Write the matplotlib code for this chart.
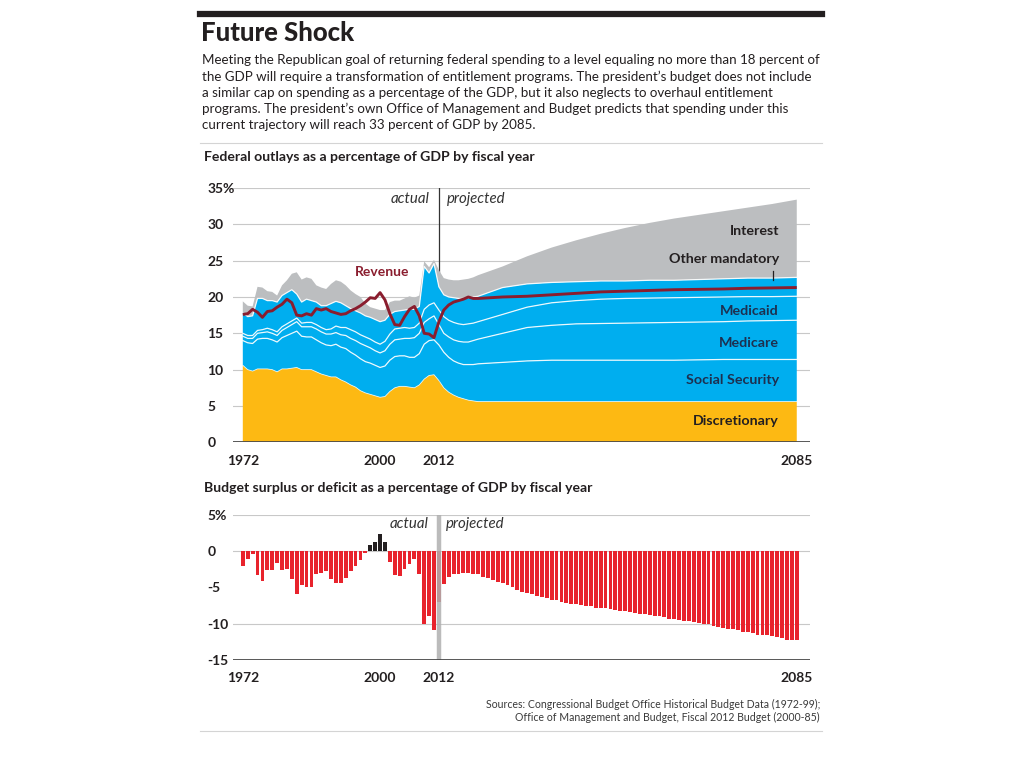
import numpy as np
import matplotlib
matplotlib.use('Agg')
import matplotlib.pyplot as plt
from matplotlib.lines import Line2D

plt.rcParams['font.family'] = ['Lato', 'DejaVu Sans']

# --- outlays by category, % of GDP (annual to 2020, then every 5 years) ---
years = list(range(1972, 2021)) + [2025, 2030, 2035, 2040, 2045, 2050, 2055, 2060, 2065, 2070, 2075, 2080, 2085]

discretionary = [10.6, 10.0, 9.8, 10.1, 10.1, 10.1, 10.0, 9.7, 10.1, 10.1,
                 10.2, 10.3, 10.0, 10.0, 10.0, 9.7, 9.4, 9.2, 9.0, 9.0,
                 8.6, 8.3, 7.9, 7.6, 7.1, 6.8, 6.6, 6.4, 6.2, 6.3,
                 7.0, 7.5, 7.7, 7.7, 7.6, 7.5, 7.9, 8.7, 9.2, 9.3,
                 8.5, 7.5, 6.9, 6.5, 6.2, 6.0, 5.8, 5.7, 5.6,
                 5.6, 5.6, 5.6, 5.6, 5.6, 5.6, 5.6, 5.6, 5.6, 5.6, 5.6, 5.6, 5.6]
social_security = [3.4, 3.7, 3.8, 4.1, 4.2, 4.2, 4.1, 4.1, 4.3, 4.6,
                   4.8, 5.0, 4.6, 4.5, 4.5, 4.4, 4.3, 4.2, 4.3, 4.5,
                   4.5, 4.6, 4.5, 4.4, 4.4, 4.3, 4.3, 4.2, 4.1, 4.2,
                   4.3, 4.3, 4.2, 4.2, 4.1, 4.2, 4.3, 4.8, 4.8, 4.8,
                   4.9, 4.9, 4.8, 4.7, 4.7, 4.7, 4.9, 5.0, 5.2,
                   5.4, 5.6, 5.7, 5.7, 5.7, 5.7, 5.7, 5.7, 5.75, 5.8, 5.8, 5.8, 5.8]
medicare = [0.6, 0.6, 0.7, 0.8, 0.8, 0.9, 0.9, 0.9, 1.0, 1.1,
            1.2, 1.3, 1.3, 1.4, 1.4, 1.5, 1.5, 1.5, 1.6, 1.6,
            1.7, 1.8, 1.9, 2.0, 2.1, 2.2, 2.1, 2.0, 2.0, 2.1,
            2.2, 2.3, 2.3, 2.4, 2.6, 2.7, 2.8, 3.0, 3.0, 3.3,
            2.8, 2.6, 2.8, 2.9, 3.0, 3.1, 3.1, 3.3, 3.4,
            4.0, 4.6, 4.8, 5.0, 5.05, 5.1, 5.15, 5.2, 5.2, 5.2, 5.3, 5.35, 5.4]
medicaid = [0.4, 0.4, 0.4, 0.4, 0.4, 0.5, 0.5, 0.5, 0.5, 0.5,
            0.5, 0.5, 0.5, 0.6, 0.6, 0.6, 0.6, 0.6, 0.7, 0.9,
            1.0, 1.1, 1.2, 1.2, 1.2, 1.2, 1.2, 1.2, 1.2, 1.3,
            1.4, 1.5, 1.5, 1.5, 1.4, 1.4, 1.4, 1.8, 1.9, 1.8,
            2.0, 2.3, 2.3, 2.4, 2.4, 2.4, 2.5, 2.4, 2.4,
            2.6, 2.8, 3.1, 3.2, 3.35, 3.4, 3.4, 3.4, 3.4, 3.4, 3.35, 3.3, 3.3]
other_mandatory = [2.8, 2.6, 2.7, 4.4, 4.3, 3.8, 4.0, 4.1, 4.3, 4.3,
                   4.3, 3.3, 2.9, 3.2, 3.0, 3.1, 3.0, 3.3, 3.5, 3.4,
                   3.4, 3.0, 2.9, 2.9, 3.0, 2.9, 3.0, 3.1, 3.1, 2.9,
                   2.7, 2.4, 2.4, 2.4, 2.6, 2.5, 2.3, 5.9, 4.4, 5.4,
                   3.2, 3.0, 3.2, 3.4, 3.5, 3.6, 3.6, 3.6, 3.5,
                   3.7, 3.2, 2.8, 2.6, 2.5, 2.4, 2.45, 2.4, 2.45, 2.5, 2.55, 2.55, 2.6]
interest = [1.6, 1.5, 1.3, 1.6, 1.5, 1.3, 1.2, 0.9, 1.4, 1.7,
            2.2, 3.0, 3.1, 3.0, 3.0, 2.3, 2.5, 2.3, 2.7, 2.9,
            2.9, 2.8, 2.5, 2.3, 2.2, 1.7, 1.4, 1.5, 1.6, 1.4,
            1.7, 1.5, 1.4, 1.6, 1.8, 1.6, 1.5, 0.7, 0.8, 0.5,
            2.3, 2.3, 2.4, 2.4, 2.5, 2.6, 2.6, 2.7, 2.9,
            2.9, 3.8, 4.8, 5.7, 6.5, 7.3, 7.9, 8.5, 8.9, 9.3, 9.7, 10.2, 10.7]
revenue = [17.6, 17.7, 18.3, 17.9, 17.2, 18.0, 18.1, 18.6, 19.0, 19.7,
           19.2, 17.5, 17.4, 17.7, 17.5, 18.4, 18.2, 18.4, 18.0, 17.8,
           17.6, 17.7, 18.1, 18.4, 18.8, 19.3, 19.9, 19.8, 20.6, 19.6,
           17.7, 16.2, 16.1, 17.3, 18.3, 18.7, 17.4, 15.0, 14.9, 14.4,
           16.6, 18.2, 18.9, 19.3, 19.5, 19.7, 20.0, 19.8, 19.8,
           20.0, 20.1, 20.3, 20.5, 20.7, 20.8, 20.9, 21.0, 21.05, 21.1, 21.2, 21.25, 21.3]

# --- surplus / deficit, % of GDP, every year ---
bar_years = list(range(1972, 2086))
balance = [-2.0, -1.1, -0.4, -3.3, -4.1, -2.6, -2.6, -1.6, -2.6, -2.5,
           -3.9, -5.9, -4.7, -5.0, -4.9, -3.1, -3.0, -2.7, -3.8, -4.4,
           -4.4, -3.7, -2.8, -2.1, -1.3, -0.3, 0.8, 1.3, 2.4, 1.3,
           -1.5, -3.3, -3.4, -2.5, -1.8, -1.1, -3.1, -10.0, -8.9, -10.9,
           -7.0, -4.6, -3.6, -3.2, -3.1, -3.0, -3.0, -3.1, -3.1, -3.6,
           -3.7, -4.0, -4.2, -4.4, -4.7, -5.0, -5.3, -5.6, -5.8, -5.9,
           -6.2, -6.3, -6.5, -6.7, -6.8, -7.0, -7.2, -7.3, -7.3, -7.4,
           -7.5, -7.6, -7.8, -7.8, -7.9, -8.0, -8.1, -8.2, -8.3, -8.4,
           -8.5, -8.6, -8.7, -8.8, -8.9, -9.0, -9.1, -9.3, -9.4, -9.5,
           -9.6, -9.7, -9.8, -9.9, -10.0, -10.1, -10.3, -10.4, -10.6, -10.7,
           -10.8, -10.9, -11.1, -11.2, -11.3, -11.5, -11.5, -11.6, -11.7, -11.8,
           -12.0, -12.2, -12.3, -12.3]

x_ticks = [1972, 2000, 2012, 2085]
top_yticks = [0, 5, 10, 15, 20, 25, 30, 35]
top_ylabels = ['0', '5', '10', '15', '20', '25', '30', '35%']
bot_yticks = [-15, -10, -5, 0, 5]
bot_ylabels = ['-15', '-10', '-5', '0', '5%']

YELLOW = '#fdb913'
BLUE = '#00aeef'
GRAY = '#bcbec0'
RED = '#e8232c'
MAROON = '#8a1d2e'
INK = '#231f20'
NAVY = '#1d3050'

W, H = 1024.0, 768.0
def fx(px):
    return px / W
def fy(py):
    return 1 - py / H

fig = plt.figure(figsize=(10.24, 7.68), dpi=100)

# header
fig.add_artist(Line2D([fx(200), fx(822)], [fy(13.5), fy(13.5)], color=INK, lw=4.5))
fig.text(fx(201), fy(33), 'Future Shock', fontsize=18.5, fontweight='black', color=INK, va='center')
para = ['Meeting the Republican goal of returning federal spending to a level equaling no more than 18 percent of',
        'the GDP will require a transformation of entitlement programs. The president\u2019s budget does not include',
        'a similar cap on spending as a percentage of the GDP, but it also neglects to overhaul entitlement',
        'programs. The president\u2019s own Office of Management and Budget predicts that spending under this',
        'current trajectory will reach 33 percent of GDP by 2085.']
for i, line in enumerate(para):
    fig.text(fx(202), fy(60 + i * 16.3), line, fontsize=9.6, color=INK, va='center')
fig.add_artist(Line2D([fx(200), fx(822)], [fy(143), fy(143)], color='#d4d4d4', lw=0.8))
fig.text(fx(204), fy(157), 'Federal outlays as a percentage of GDP by fiscal year',
         fontsize=10.1, fontweight='bold', color=INK, va='center')
fig.text(fx(204), fy(488), 'Budget surplus or deficit as a percentage of GDP by fiscal year',
         fontsize=10.1, fontweight='bold', color=INK, va='center')

# ---------------- top chart ----------------
ax1 = fig.add_axes([fx(233), fy(442.3), fx(810) - fx(233), fy(188) - fy(442.3)])
ax1.set_xlim(1970, 2087.7)
ax1.set_ylim(0, 35)
for v in top_yticks[1:]:
    ax1.axhline(v, color='#c8c8c8', lw=0.8, zorder=0)
ax1.plot([2012, 2012], [0, 35], color='#333333', lw=0.9, zorder=1)

layers = [discretionary, social_security, medicare, medicaid, other_mandatory, interest]
ax1.stackplot(years, *layers, colors=[YELLOW, BLUE, BLUE, BLUE, BLUE, GRAY], lw=0, zorder=2)
tops = np.cumsum(np.array(layers), axis=0)
ax1.plot(years, tops[0], color='white', lw=0.6, alpha=0.8, zorder=3)
for k in range(1, 5):
    ax1.plot(years, tops[k], color='white', lw=0.9, alpha=0.9, zorder=3)
ax1.plot(years, revenue, color=MAROON, lw=2.1, zorder=4, solid_capstyle='butt')
ax1.axhline(0, color='#4a4a4a', lw=1.3, zorder=5)

ax1.text(2010.1, 33.5, 'actual', fontsize=10.8, style='italic', color='#333333', ha='right', va='center')
ax1.text(2013.6, 33.5, 'projected', fontsize=10.8, style='italic', color='#333333', ha='left', va='center')
ax1.text(2006.0, 23.5, 'Revenue', fontsize=10, fontweight='bold', color=MAROON, ha='right', va='center')

lab_x = 2081.4
lab_fs = 10.3
ax1.text(lab_x, 29.1, 'Interest', fontsize=lab_fs, fontweight='bold', color=INK, ha='right', va='center')
ax1.text(lab_x, 25.2, 'Other mandatory', fontsize=lab_fs, fontweight='bold', color=INK, ha='right', va='center')
ax1.plot([2080.2, 2080.2], [22.4, 23.6], color=INK, lw=0.9, zorder=6)
ax1.text(lab_x, 18.1, 'Medicaid', fontsize=lab_fs, fontweight='bold', color=NAVY, ha='right', va='center')
ax1.text(lab_x, 13.7, 'Medicare', fontsize=lab_fs, fontweight='bold', color=NAVY, ha='right', va='center')
ax1.text(lab_x, 8.6, 'Social Security', fontsize=lab_fs, fontweight='bold', color=NAVY, ha='right', va='center')
ax1.text(lab_x, 2.9, 'Discretionary', fontsize=lab_fs, fontweight='bold', color=INK, ha='right', va='center')

# ---------------- bottom chart ----------------
ax2 = fig.add_axes([fx(233), fy(660), fx(810) - fx(233), fy(514.7) - fy(660)])
ax2.set_xlim(1970, 2087.7)
ax2.set_ylim(-15, 5)
for v in [5, 0, -10]:
    ax2.axhline(v, color='#c8c8c8', lw=0.8, zorder=0)
bar_colors = [INK if v > 0 else RED for v in balance]
ax2.bar(bar_years, balance, width=0.78, color=bar_colors, lw=0, zorder=2)
ax2.axvline(2012, color='#b0b0b0', lw=3.2, alpha=0.85, zorder=3)
ax2.axhline(-15, color='#4a4a4a', lw=1.3, zorder=5)
ax2.text(2009.8, 3.7, 'actual', fontsize=10.8, style='italic', color='#333333', ha='right', va='center')
ax2.text(2013.5, 3.7, 'projected', fontsize=10.8, style='italic', color='#333333', ha='left', va='center')

for ax, yt, yl in [(ax1, top_yticks, top_ylabels), (ax2, bot_yticks, bot_ylabels)]:
    for s in ax.spines.values():
        s.set_visible(False)
    ax.set_facecolor('none')
    ax.set_xticks(x_ticks)
    ax.set_xticklabels([str(y) for y in x_ticks], fontsize=10, fontweight='bold', color=INK)
    ax.set_yticks(yt)
    ax.set_yticklabels(yl, fontsize=10, fontweight='bold', color=INK)
    for t in ax.get_yticklabels():
        t.set_horizontalalignment('left')
    ax.tick_params(axis='y', length=0, pad=18.5)
    ax.tick_params(axis='x', length=0, pad=9)

fig.text(fx(820), fy(704), 'Sources: Congressional Budget Office Historical Budget Data (1972-99);',
         fontsize=7.6, color='#3a3a3a', ha='right', va='center')
fig.text(fx(820), fy(717), 'Office of Management and Budget, Fiscal 2012 Budget (2000-85)',
         fontsize=7.6, color='#3a3a3a', ha='right', va='center')
fig.add_artist(Line2D([fx(200), fx(822)], [fy(731), fy(731)], color='#d4d4d4', lw=0.8))

fig.savefig('out.png', dpi=100)
